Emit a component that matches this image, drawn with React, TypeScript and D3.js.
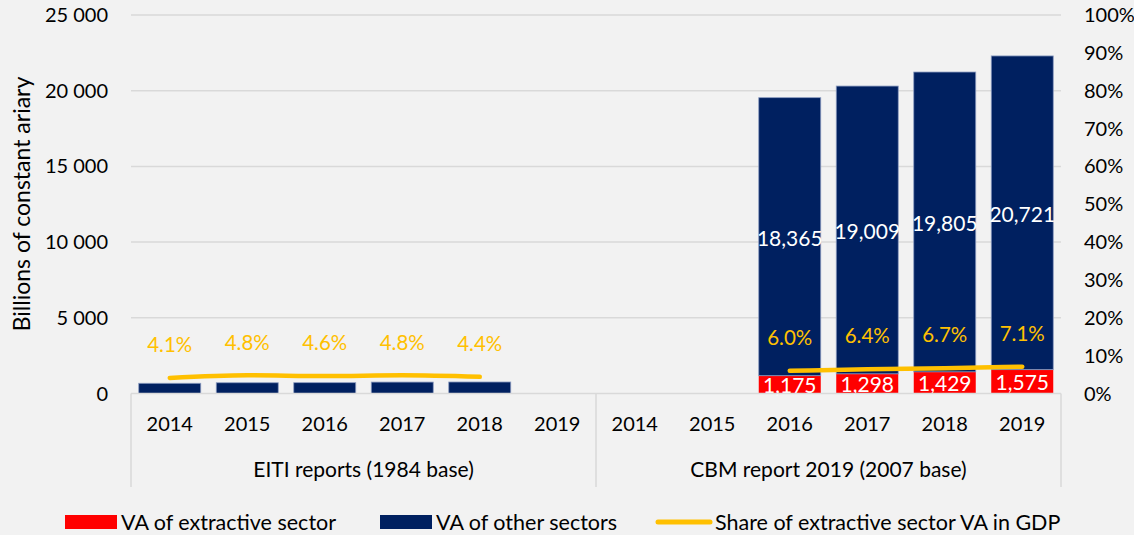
import React from "react";
import * as d3 from "d3";

const years = ["2014", "2015", "2016", "2017", "2018", "2019"];
const groups = ["EITI reports (1984 base)", "CBM report 2019 (2007 base)"];

// EITI reports (1984 base)
const eitiExtractive: (number | null)[] = [null, null, null, null, null, null];
const eitiOther: (number | null)[] = [675, 710, 715, 755, 760, null];
const eitiShare: (number | null)[] = [4.1, 4.8, 4.6, 4.8, 4.4, null];

// CBM report 2019 (2007 base)
const cbmExtractive: (number | null)[] = [null, null, 1175, 1298, 1429, 1575];
const cbmOther: (number | null)[] = [null, null, 18365, 19009, 19805, 20721];
const cbmShare: (number | null)[] = [null, null, 6.0, 6.4, 6.7, 7.1];

const leftTicks = [0, 5000, 10000, 15000, 20000, 25000];
const rightTicks = [0, 10, 20, 30, 40, 50, 60, 70, 80, 90, 100];

const legendItems = ["VA of extractive sector", "VA of other sectors", "Share of extractive sector VA in GDP"];

const RED = "#FF0000";
const NAVY = "#002060";
const GOLD = "#FFC000";
const GRID = "#D9D9D9";
const FONT = "Lato, 'Open Sans', sans-serif";

export default function App() {
  const W = 1134;
  const H = 535;
  const left = 131;
  const right = 1061;
  const top = 15;
  const bottom = 393.5;

  const groupData = [
    { name: groups[0], extractive: eitiExtractive, other: eitiOther, share: eitiShare },
    { name: groups[1], extractive: cbmExtractive, other: cbmOther, share: cbmShare },
  ];

  const keys: string[] = [];
  groupData.forEach((g, gi) => years.forEach((y) => keys.push(`${gi}-${y}`)));

  const x = d3.scaleBand<string>().domain(keys).range([left, right]).paddingInner(0.2).paddingOuter(0.1);
  const yL = d3.scaleLinear().domain([0, 25000]).range([bottom, top]);
  const yR = d3.scaleLinear().domain([0, 100]).range([bottom, top]);
  const fmtL = (v: number) => d3.format(",")(v).replace(/,/g, " ");
  const fmtV = d3.format(",");

  const bw = x.bandwidth();
  const step = x.step();
  const groupW = step * years.length;

  const line = d3
    .line<{ k: string; v: number }>()
    .x((d) => (x(d.k) as number) + bw / 2)
    .y((d) => yR(d.v))
    .curve(d3.curveMonotoneX);

  return (
    <svg width={W} height={H} style={{ position: "absolute", left: 0, top: 0, background: "#F2F2F2" }} fontFamily={FONT}>
      <rect x={0} y={0} width={W} height={H} fill="#F2F2F2" />
      {/* gridlines */}
      {leftTicks.filter((t) => t > 0).map((t) => (
        <line key={t} x1={left} x2={right} y1={yL(t)} y2={yL(t)} stroke={GRID} strokeWidth={1.5} />
      ))}
      {/* left ticks */}
      {leftTicks.map((t) => (
        <text key={t} x={108} y={yL(t)} dy="0.35em" textAnchor="end" fontSize={20} fill="#000">
          {fmtL(t)}
        </text>
      ))}
      {/* right ticks */}
      {rightTicks.map((t) => (
        <text key={t} x={1084} y={yR(t)} dy="0.35em" textAnchor="start" fontSize={20} fill="#000">
          {t + "%"}
        </text>
      ))}
      <text transform={`translate(22,204) rotate(-90)`} textAnchor="middle" dy="0.35em" fontSize={23} fill="#000">
        Billions of constant ariary
      </text>

      {/* bars */}
      {groupData.map((g, gi) =>
        years.map((yr, i) => {
          const k = `${gi}-${yr}`;
          const bx = x(k) as number;
          const e = g.extractive[i] ?? 0;
          const o = g.other[i];
          const els: React.ReactNode[] = [];
          if (e > 0) {
            els.push(
              <rect key="e" x={bx} y={yL(e)} width={bw} height={yL(0) - yL(e)} fill={RED} />
            );
          }
          if (o != null) {
            els.push(
              <rect key="o" x={bx} y={yL(e + o)} width={bw} height={yL(e) - yL(e + o)} fill={NAVY} stroke="#8C9CC0" strokeWidth={0.8} />
            );
          }
          return <g key={k}>{els}</g>;
        })
      )}

      {/* lines */}
      {groupData.map((g, gi) => {
        const pts = years
          .map((yr, i) => ({ k: `${gi}-${yr}`, v: g.share[i] }))
          .filter((d) => d.v != null) as { k: string; v: number }[];
        return (
          <path key={gi} d={line(pts) || ""} fill="none" stroke={GOLD} strokeWidth={4.5} strokeLinecap="round" />
        );
      })}

      {/* value labels */}
      {groupData.map((g, gi) =>
        years.map((yr, i) => {
          const k = `${gi}-${yr}`;
          const cx = (x(k) as number) + bw / 2;
          const e = g.extractive[i] ?? 0;
          const o = g.other[i];
          const s = g.share[i];
          const els: React.ReactNode[] = [];
          if (e > 0) {
            els.push(
              <text key="e" x={cx} y={(yL(0) + yL(e)) / 2 + 1} dy="0.35em" textAnchor="middle" fontSize={21} fill="#fff">
                {fmtV(e)}
              </text>
            );
          }
          if (o != null && gi === 1) {
            els.push(
              <text key="o" x={cx} y={(yL(e) + yL(e + o)) / 2 + 2} dy="0.35em" textAnchor="middle" fontSize={21} fill="#fff">
                {fmtV(o)}
              </text>
            );
          }
          if (s != null) {
            els.push(
              <text key="s" x={cx} y={yR(s) - 33} dy="0.35em" textAnchor="middle" fontSize={20.5} fill={GOLD}>
                {s.toFixed(1) + "%"}
              </text>
            );
          }
          return <g key={"l" + k}>{els}</g>;
        })
      )}

      {/* category axis */}
      <line x1={left} x2={right} y1={bottom} y2={bottom} stroke={GRID} strokeWidth={1.5} />
      {[0, 1, 2].map((i) => (
        <line key={i} x1={left + i * groupW} x2={left + i * groupW} y1={bottom} y2={487} stroke={GRID} strokeWidth={1.5} />
      ))}
      {keys.map((k) => (
        <text key={k} x={(x(k) as number) + bw / 2} y={424} dy="0.35em" textAnchor="middle" fontSize={20} fill="#000">
          {k.split("-")[1]}
        </text>
      ))}
      {groups.map((gname, gi) => (
        <text key={gname} x={left + gi * groupW + groupW / 2} y={470} dy="0.35em" textAnchor="middle" fontSize={21} fill="#000">
          {gname}
        </text>
      ))}

      {/* legend */}
      <rect x={65} y={515} width={52} height={14} fill={RED} />
      <text x={121} y={522} dy="0.35em" fontSize={21.5} fill="#000">{legendItems[0]}</text>
      <rect x={380} y={515} width={52} height={14} fill={NAVY} />
      <text x={436} y={522} dy="0.35em" fontSize={21.5} fill="#000">{legendItems[1]}</text>
      <line x1={658} x2={710} y1={522} y2={522} stroke={GOLD} strokeWidth={5} strokeLinecap="round" />
      <text x={715} y={522} dy="0.35em" fontSize={21.5} fill="#000">{legendItems[2]}</text>
    </svg>
  );
}
